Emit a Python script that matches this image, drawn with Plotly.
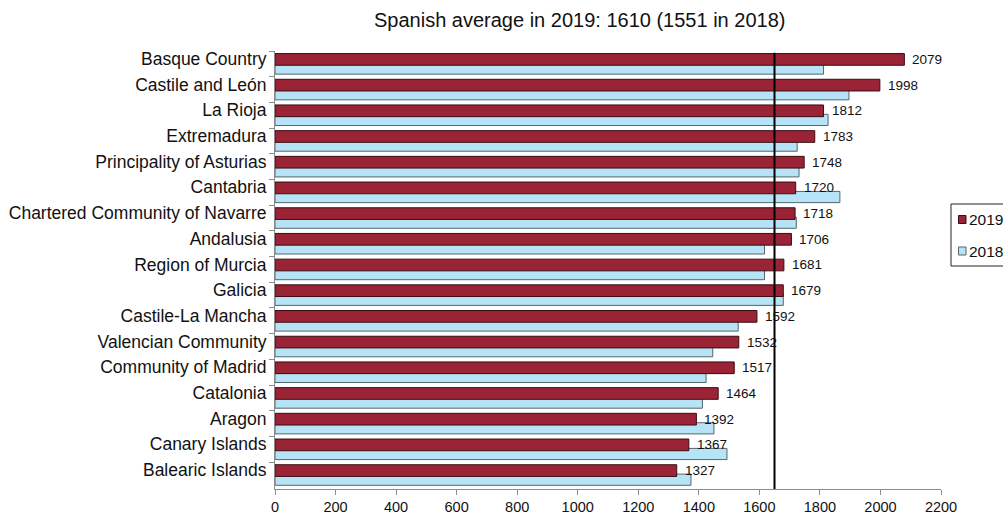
import plotly.graph_objects as go

# Regions, top to bottom
regions = [
    "Basque Country", "Castile and León", "La Rioja", "Extremadura",
    "Principality of Asturias", "Cantabria", "Chartered Community of Navarre",
    "Andalusia", "Region of Murcia", "Galicia", "Castile-La Mancha",
    "Valencian Community", "Community of Madrid", "Catalonia", "Aragon",
    "Canary Islands", "Balearic Islands",
]
values_2019 = [2079, 1998, 1812, 1783, 1748, 1720, 1718, 1706, 1681, 1679,
               1592, 1532, 1517, 1464, 1392, 1367, 1327]
values_2018 = [1812, 1896, 1827, 1725, 1731, 1866, 1722, 1617, 1617, 1679,
               1530, 1446, 1424, 1412, 1450, 1493, 1374]
avg_line_x = 1650
x_ticks = list(range(0, 2201, 200))
title_text = "Spanish average in 2019: 1610 (1551 in 2018)"

RED = "#9b2336"
BLUE = "#b7e3f6"
FONT = "Liberation Sans, Arial, sans-serif"
AXIS_GREY = "#8c8c8c"

W, H = 1003, 519
ML, MR, MT, MB = 275, 62, 51, 30
PW, PH = W - ML - MR, H - MT - MB


def px(xp):
    return (xp - ML) / PW


def py(yp):
    return (H - MB - yp) / PH


fig = go.Figure()

# 2018 drawn first so the 2019 bar sits on top where they overlap
fig.add_trace(go.Bar(
    y=regions, x=values_2018, orientation="h", name="2018",
    offset=-0.035, width=0.435,
    marker=dict(color=BLUE, line=dict(color="#56666d", width=1)),
    showlegend=False, hoverinfo="x+name",
))
fig.add_trace(go.Bar(
    y=regions, x=values_2019, orientation="h", name="2019",
    offset=-0.40, width=0.455,
    marker=dict(color=RED, line=dict(color="#3a0c13", width=1)),
    showlegend=False, hoverinfo="x+name",
))

annotations = []
for r, v in zip(regions, values_2019):
    annotations.append(dict(
        x=v, y=r, xref="x", yref="y", text=str(v), showarrow=False,
        xanchor="left", yanchor="middle", xshift=6, yshift=4.5,
        font=dict(family=FONT, size=13.5, color="#111111"),
    ))

# Title
annotations.append(dict(
    x=px(579), y=py(20.5), xref="paper", yref="paper", text=title_text,
    showarrow=False, xanchor="center", yanchor="middle",
    font=dict(family=FONT, size=20, color="#111111"),
))

# Legend entries
legend_items = [("2019", RED, "#3a0c13", 219.5), ("2018", BLUE, "#56666d", 251)]
shapes = [
    dict(type="line", xref="x", yref="paper", x0=avg_line_x, x1=avg_line_x,
         y0=0, y1=py(52.7), line=dict(color="black", width=2)),
    dict(type="rect", xref="paper", yref="paper", x0=px(951), x1=px(1012),
         y0=py(204), y1=py(266), line=dict(color="#222222", width=1),
         fillcolor="white", layer="above"),
]
for label, fill, edge, yc in legend_items:
    shapes.append(dict(
        type="rect", xref="paper", yref="paper", x0=px(958.5), x1=px(966),
        y0=py(yc + 4), y1=py(yc - 4), fillcolor=fill,
        line=dict(color=edge, width=1), layer="above",
    ))
    annotations.append(dict(
        x=px(966.5), y=py(yc), xref="paper", yref="paper", text=label,
        showarrow=False, xanchor="left", yanchor="middle",
        font=dict(family=FONT, size=15.5, color="#111111"),
    ))

fig.update_layout(
    width=W, height=H,
    margin=dict(l=ML, r=MR, t=MT, b=MB, autoexpand=False),
    barmode="overlay",
    paper_bgcolor="white", plot_bgcolor="white",
    font=dict(family=FONT, color="#111111"),
    showlegend=False,
    shapes=shapes,
    annotations=annotations,
    xaxis=dict(
        range=[0, 2200], tickvals=x_ticks, ticktext=[str(t) for t in x_ticks],
        showgrid=False, zeroline=False, showline=True, linecolor=AXIS_GREY,
        linewidth=1, ticks="outside", ticklen=5, tickcolor=AXIS_GREY,
        tickfont=dict(family=FONT, size=14.5, color="#111111"),
        ticklabelstandoff=0,
    ),
    yaxis=dict(
        type="category", categoryorder="array", categoryarray=regions,
        autorange="reversed", showgrid=False, zeroline=False,
        showline=True, linecolor=AXIS_GREY, linewidth=1,
        ticks="outside", ticklen=5, tickcolor=AXIS_GREY,
        tickson="boundaries",
        ticklabelstandoff=4, ticklabelshift=5,
        tickfont=dict(family=FONT, size=17.5, color="#111111"),
    ),
)

fig.write_html("out.html")
